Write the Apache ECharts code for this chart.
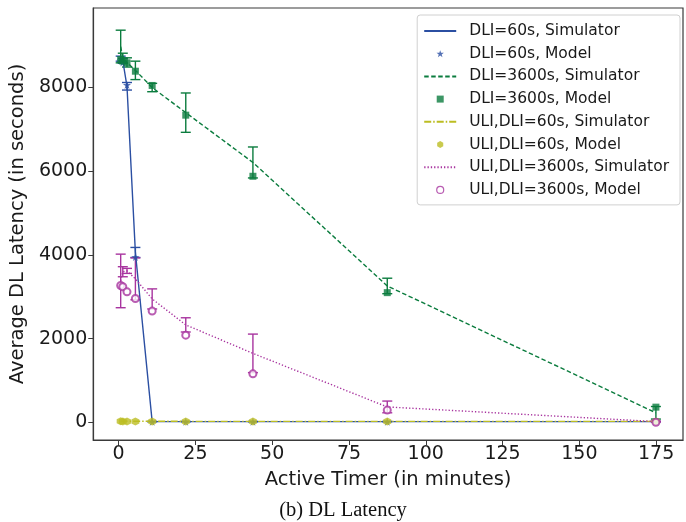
<!DOCTYPE html>
<html>
<head>
<meta charset="utf-8">
<script src="https://cdn.jsdelivr.net/npm/echarts@6/dist/echarts.min.js"></script>
<style>
  html, body { margin: 0; padding: 0; background: #fff; }
  #chart { width: 686px; height: 522px; }
</style>
</head>
<body>
<div id="chart"></div>
<script>
// Active timer values (minutes)
const timers = [0.68, 1.37, 2.73, 5.47, 10.93, 21.87, 43.73, 87.47, 174.93];

// DLI = 60 s
const dli60Sim    = [8690, 8640, 8030, 4060, 20, 20, 20, 20, 20];
const dli60SimErr = [60, 60, 90, 120, 5, 5, 5, 5, 5];
const dli60Model  = [8650, 8600, 8060, 3950, 15, 15, 15, 15, 15];

// DLI = 3600 s
const dli3600Sim    = [8980, 8700, 8600, 8410, 8000, 7400, 6210, 3260, 230];
const dli3600SimErr = [390, 120, 110, 220, 100, 470, 370, 185, 150];
const dli3600Model  = [8670, 8630, 8590, 8390, 8050, 7340, 5880, 3100, 365];

// ULI with DLI = 60 s
const uli60Sim   = [32, 30, 30, 28, 28, 26, 26, 26, 25];
const uli60Model = [25, 22, 22, 20, 20, 20, 20, 20, 20];

// ULI with DLI = 3600 s
const uli3600Sim    = [3380, 3600, 3620, 3430, 2950, 2330, 1650, 370, 20];
const uli3600SimErr = [640, 120, 60, 500, 240, 170, 460, 140, 10];
const uli3600Model  = [3270, 3240, 3120, 2960, 2660, 2085, 1160, 295, 5];

const xTicks = [0, 25, 50, 75, 100, 125, 150, 175];
const yTicks = [0, 2000, 4000, 6000, 8000];

const BLUE = '#2b4fa2', GREEN = '#0b7c3e', OLIVE = '#bcbd22', PURPLE = '#a8349f';
const FONT = 'DejaVu Sans';

const STAR = 'path://M0,-10 L2.35,-3.24 L9.51,-3.09 L3.8,1.24 L5.88,8.09 L0,4 L-5.88,8.09 L-3.8,1.24 L-9.51,-3.09 L-2.35,-3.24 Z';
const HEX = 'path://M0,-10 L8.66,-5 L8.66,5 L0,10 L-8.66,5 L-8.66,-5 Z';
const SQUARE = 'path://M0,0 L10,0 L10,10 L0,10 Z';

const pairs = ys => timers.map((t, i) => [t, ys[i]]);
const errData = (ys, es) => timers.map((t, i) => [t, ys[i] - es[i], ys[i] + es[i]]);

function errorBars(name, ys, es, color) {
  return {
    name: name,
    type: 'custom',
    data: errData(ys, es),
    z: 3,
    silent: true,
    renderItem: function (params, api) {
      const x = api.value(0);
      const top = api.coord([x, api.value(2)]);
      const bot = api.coord([x, api.value(1)]);
      const w = 5;
      const style = { stroke: color, lineWidth: 1.4 };
      return {
        type: 'group',
        children: [
          { type: 'line', shape: { x1: top[0], y1: top[1], x2: bot[0], y2: bot[1] }, style: style },
          { type: 'line', shape: { x1: top[0] - w, y1: top[1], x2: top[0] + w, y2: top[1] }, style: style },
          { type: 'line', shape: { x1: bot[0] - w, y1: bot[1], x2: bot[0] + w, y2: bot[1] }, style: style }
        ]
      };
    }
  };
}

function simLine(name, ys, color, type, width) {
  return {
    name: name, type: 'line', data: pairs(ys),
    symbol: 'none', z: 4, animation: false,
    itemStyle: { color: color },
    lineStyle: { color: color, width: width || 1.3, type: type }
  };
}

function model(name, ys, color, symbol, size, hollow) {
  return {
    name: name, type: 'scatter', data: pairs(ys),
    symbol: symbol, symbolSize: size, z: 5, animation: false,
    itemStyle: hollow
      ? { color: color, borderColor: color, borderWidth: 1.2 }
      : { color: color }
  };
}

// legend entries: simulator rows show only their line, model rows only their marker
const simLegend = name => ({ name: name, itemStyle: { opacity: 0 } });
const legendData = [
  simLegend('DLI=60s, Simulator'),
  { name: 'DLI=60s, Model', icon: STAR, itemStyle: { color: BLUE } },
  simLegend('DLI=3600s, Simulator'),
  { name: 'DLI=3600s, Model', icon: SQUARE, itemStyle: { color: GREEN } },
  simLegend('ULI,DLI=60s, Simulator'),
  { name: 'ULI,DLI=60s, Model', icon: HEX, itemStyle: { color: OLIVE } },
  simLegend('ULI,DLI=3600s, Simulator'),
  { name: 'ULI,DLI=3600s, Model', icon: 'circle', itemStyle: { color: '#fff', borderColor: PURPLE, borderWidth: 1.2 } }
];

const chart = echarts.init(document.getElementById('chart'), null, { renderer: 'canvas' });

chart.setOption({
  animation: false,
  backgroundColor: '#fff',
  grid: {
    left: 93, right: 3, top: 8, bottom: 82,
    show: true, borderColor: '#3a3a3a', borderWidth: 1.2, backgroundColor: 'transparent'
  },
  legend: {
    data: legendData,
    orient: 'vertical',
    right: 6, top: 15,
    itemWidth: 32, itemHeight: 7, itemGap: 6.7,
    padding: [8, 11, 7, 6],
    backgroundColor: '#fff',
    borderColor: '#d0d0d0', borderWidth: 1, borderRadius: 3,
    textStyle: { fontFamily: FONT, fontSize: 15.5, color: '#1a1a1a', lineHeight: 16, padding: [0, 0, 0, 8] }
  },
  xAxis: {
    type: 'value', min: -8.25, max: 183.75,
    name: 'Active Timer (in minutes)', nameLocation: 'middle', nameGap: 30,
    nameTextStyle: { fontFamily: FONT, fontSize: 19.5, color: '#1a1a1a' },
    splitLine: { show: false },
    axisLine: { show: true, onZero: false, lineStyle: { color: '#3a3a3a', width: 1.2 } },
    axisTick: { show: true, length: 5, customValues: xTicks, lineStyle: { color: '#3a3a3a', width: 1 } },
    axisLabel: { customValues: xTicks, margin: 5, fontFamily: FONT, fontSize: 19, color: '#1a1a1a' }
  },
  yAxis: {
    type: 'value', min: -420, max: 9900,
    name: 'Average DL Latency (in seconds)', nameLocation: 'middle', nameGap: 60,
    nameTextStyle: { fontFamily: FONT, fontSize: 19.5, color: '#1a1a1a' },
    splitLine: { show: false },
    axisLine: { show: true, onZero: false, lineStyle: { color: '#3a3a3a', width: 1.2 } },
    axisTick: { show: true, length: 5, customValues: yTicks, lineStyle: { color: '#3a3a3a', width: 1 } },
    axisLabel: {
      customValues: yTicks, margin: 6, fontFamily: FONT, fontSize: 19, color: '#1a1a1a',
      formatter: v => String(v)
    }
  },
  graphic: [{
    type: 'text', left: 'center', top: 500,
    style: { text: '(b) DL Latency', fontFamily: 'Liberation Serif', fontSize: 20.5, fill: '#111' }
  }],
  series: [
    errorBars('dli60Err', dli60Sim, dli60SimErr, BLUE),
    errorBars('dli3600Err', dli3600Sim, dli3600SimErr, GREEN),
    errorBars('uli3600Err', uli3600Sim, uli3600SimErr, PURPLE),
    simLine('DLI=60s, Simulator', dli60Sim, BLUE, 'solid', 1.4),
    model('DLI=60s, Model', dli60Model, BLUE, STAR, 8),
    simLine('DLI=3600s, Simulator', dli3600Sim, GREEN, [4.5, 2.5], 1.4),
    model('DLI=3600s, Model', dli3600Model, GREEN, 'rect', 7),
    simLine('ULI,DLI=60s, Simulator', uli60Sim, OLIVE, [7, 2, 1.5, 2], 1.4),
    model('ULI,DLI=60s, Model', uli60Model, OLIVE, HEX, 8),
    simLine('ULI,DLI=3600s, Simulator', uli3600Sim, PURPLE, [1.3, 2], 1.4),
    model('ULI,DLI=3600s, Model', uli3600Model, PURPLE, 'emptyCircle', 7, true)
  ]
});
</script>
</body>
</html>
